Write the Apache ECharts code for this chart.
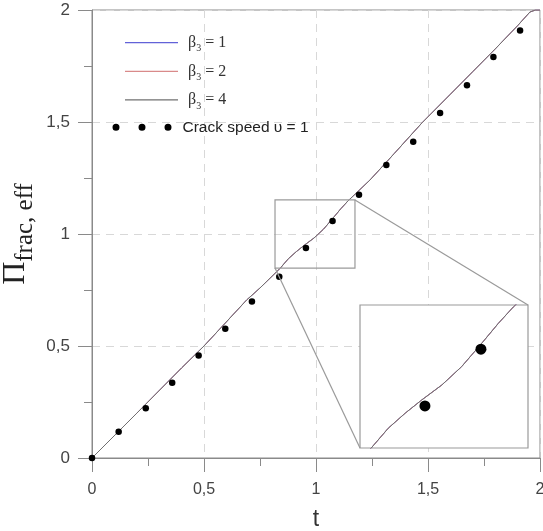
<!DOCTYPE html>
<html><head><meta charset="utf-8">
<script src="https://cdn.jsdelivr.net/npm/echarts@6.0.0/dist/echarts.min.js"></script>
<style>html,body{margin:0;padding:0;background:#fff}#c{width:543px;height:531px}</style>
</head><body><div id="c"></div>
<script>
// ---- data ----
const lineT = [0, 0.2, 0.4, 0.5, 0.69, 0.75, 0.84, 0.877, 0.913, 0.948, 0.991, 1.033, 1.076, 1.111, 1.143, 1.241, 1.35, 1.473, 1.6, 1.7, 1.8, 1.9, 1.955, 1.98, 2.0];
const beta1 = [0, 0.2, 0.402, 0.5, 0.705, 0.759, 0.847, 0.89, 0.922, 0.95, 0.982, 1.021, 1.071, 1.113, 1.148, 1.241, 1.36, 1.496, 1.624, 1.725, 1.826, 1.93, 1.991, 2.0, 2.0];
const beta2 = [0, 0.2, 0.402, 0.5, 0.705, 0.759, 0.847, 0.89, 0.922, 0.95, 0.982, 1.021, 1.071, 1.113, 1.148, 1.241, 1.36, 1.496, 1.624, 1.725, 1.826, 1.93, 1.991, 2.0, 2.0];
const beta4 = [0, 0.2, 0.402, 0.5, 0.705, 0.759, 0.847, 0.89, 0.922, 0.95, 0.982, 1.021, 1.071, 1.113, 1.148, 1.241, 1.36, 1.496, 1.624, 1.725, 1.826, 1.93, 1.991, 2.0, 2.0];
const betaValues = [1, 2, 4];
const dotT = [0, 0.119, 0.240, 0.358, 0.476, 0.595, 0.714, 0.836, 0.955, 1.074, 1.192, 1.314, 1.434, 1.554, 1.674, 1.792, 1.911];
const dotV = [0, 0.117, 0.222, 0.336, 0.458, 0.577, 0.699, 0.809, 0.9375, 1.058, 1.175, 1.308, 1.412, 1.540, 1.664, 1.790, 1.908];
const tickLabels = {0: '0', 0.5: '0,5', 1: '1', 1.5: '1,5', 2: '2'};
const zoomT = [0.817, 1.174];
const zoomV = [0.848, 1.152];
const dotName = 'Crack speed \u03c5 = 1';
const betaNames = betaValues.map(v => '\u03b23 = ' + v);

const pair = (xs, ys) => xs.map((x, i) => [x, ys[i]]);
const colors = ['#6262d8', '#d98a8a', '#707070'];
const betaData = [beta1, beta2, beta4];
const axisColor = '#8a8a8a';
const fmt = v => tickLabels[v] !== undefined ? tickLabels[v] : String(v).replace('.', ',');

const chart = echarts.init(document.getElementById('c'), null, {renderer: 'canvas'});

const mainAxisCommon = {
  type: 'value', min: 0, max: 2, interval: 0.5,
  axisLine: {show: true, onZero: false, lineStyle: {color: axisColor, width: 1}},
  axisTick: {show: true, length: 14, lineStyle: {color: axisColor}},
  minorTick: {show: true, splitNumber: 2, length: 8, lineStyle: {color: axisColor}},
  splitLine: {show: true, lineStyle: {color: '#d8d8d8', type: [8, 6], width: 1}},
  minorSplitLine: {show: false},
  axisLabel: {formatter: fmt, fontFamily: 'Liberation Sans', fontSize: 16, color: '#444'}
};
const hiddenAxis = {type: 'value', show: false, splitLine: {show: false}, axisLine: {show: false}, axisTick: {show: false}, axisLabel: {show: false}};

const series = [];
betaNames.forEach((n, i) => series.push({
  name: n, type: 'line', xAxisIndex: 0, yAxisIndex: 0, data: pair(lineT, betaData[i]),
  symbol: 'none', lineStyle: {color: colors[i], width: 1}, itemStyle: {color: colors[i]}, z: 2 + i, animation: false
}));
series.push({
  name: dotName, type: 'scatter', xAxisIndex: 0, yAxisIndex: 0, data: pair(dotT, dotV),
  symbol: 'circle', symbolSize: 6.5, itemStyle: {color: '#000', opacity: 1}, z: 6, animation: false
});
betaNames.forEach((n, i) => series.push({
  name: 'inset' + i, type: 'line', xAxisIndex: 1, yAxisIndex: 1, data: pair(lineT, betaData[i]),
  symbol: 'none', clip: true, lineStyle: {color: colors[i], width: 1}, z: 12 + i, animation: false
}));
series.push({
  name: 'insetDots', type: 'scatter', xAxisIndex: 1, yAxisIndex: 1, data: pair(dotT, dotV), clip: true,
  symbol: 'circle', symbolSize: 11, itemStyle: {color: '#000', opacity: 1}, z: 16, animation: false
});

chart.setOption({
  animation: false,
  backgroundColor: '#fff',
  grid: [
    {left: 92, top: 10, width: 448, height: 448, show: true, borderColor: axisColor, borderWidth: 1, backgroundColor: 'transparent', containLabel: false, outerBoundsMode: 'none'},
    {left: 360, top: 305, width: 168, height: 143, show: true, borderColor: '#9a9a9a', borderWidth: 1.2, backgroundColor: '#fff', z: 8, containLabel: false, outerBoundsMode: 'none'}
  ],
  xAxis: [
    Object.assign({}, mainAxisCommon, {gridIndex: 0, position: 'bottom',
      axisLabel: Object.assign({}, mainAxisCommon.axisLabel, {margin: 24}),
      name: 't', nameLocation: 'middle', nameGap: 50, nameMoveOverlap: false,
      nameTextStyle: {fontFamily: 'Liberation Sans', fontSize: 23, color: '#333'}}),
    Object.assign({}, hiddenAxis, {gridIndex: 1, min: zoomT[0], max: zoomT[1]})
  ],
  yAxis: [
    Object.assign({}, mainAxisCommon, {gridIndex: 0, position: 'left',
      axisLabel: Object.assign({}, mainAxisCommon.axisLabel, {margin: 22, fontSize: 17}),
      name: '{p|\u03a0}{s|frac, eff}', nameLocation: 'middle', nameGap: 60, nameRotate: 90, nameMoveOverlap: false,
      nameTextStyle: {color: '#222', lineHeight: 30, rich: {
        p: {fontFamily: 'Liberation Serif', fontSize: 32, color: '#222', lineHeight: 30, verticalAlign: 'bottom'},
        s: {fontFamily: 'Liberation Serif', fontSize: 25, color: '#222', lineHeight: 30, verticalAlign: 'bottom', padding: [0, 0, -6, 0]}
      }}}),
    Object.assign({}, hiddenAxis, {gridIndex: 1, min: zoomV[0], max: zoomV[1]})
  ],
  legend: [
    {
      data: betaNames.map(n => ({name: n, icon: 'rect'})), orient: 'vertical', left: 125, top: 33.7, padding: 0,
      itemWidth: 53, itemHeight: 1.2, itemGap: 8.6, selectedMode: false,
      formatter: name => {
        const v = name.split('= ')[1];
        return '{b|\u03b2}{s|3}{n| = ' + v + '}';
      },
      textStyle: {padding: [0, 0, 0, 5], lineHeight: 18, rich: {
        b: {fontFamily: 'Liberation Serif', fontSize: 16, color: '#333', lineHeight: 18},
        s: {fontFamily: 'Liberation Serif', fontSize: 10, color: '#333', verticalAlign: 'bottom', lineHeight: 18, padding: [0, 0, -2, 0]},
        n: {fontFamily: 'Liberation Serif', fontSize: 16, color: '#333', lineHeight: 18}
      }}
    },
    {
      data: [{name: dotName, icon: 'path://M0,3.5 A3.5,3.5 0 1 0 7,3.5 A3.5,3.5 0 1 0 0,3.5 Z M26,3.5 A3.5,3.5 0 1 0 33,3.5 A3.5,3.5 0 1 0 26,3.5 Z M52,3.5 A3.5,3.5 0 1 0 59,3.5 A3.5,3.5 0 1 0 52,3.5 Z'}],
      left: 112.5, top: 119.3, padding: 0, itemWidth: 59, itemHeight: 7, selectedMode: false,
      itemStyle: {opacity: 1},
      textStyle: {fontFamily: 'Liberation Sans', fontSize: 15.5, color: '#222', lineHeight: 16, padding: [0, 0, 0, 6]}
    }
  ],
  series: series
});

// zoom box and connectors derived from the axes' scales
const P = (t, v) => chart.convertToPixel({xAxisIndex: 0, yAxisIndex: 0}, [t, v]);
const Q = (t, v) => chart.convertToPixel({xAxisIndex: 1, yAxisIndex: 1}, [t, v]);
const a = P(zoomT[0], zoomV[1]), b = P(zoomT[1], zoomV[0]);
const smallBL = P(zoomT[0], zoomV[0]), smallTR = P(zoomT[1], zoomV[1]);
const bigBL = Q(zoomT[0], zoomV[0]), bigTR = Q(zoomT[1], zoomV[1]);
const gs = {stroke: '#9a9a9a', lineWidth: 1.2, fill: null};
chart.setOption({
  graphic: [
    {type: 'rect', z: 20, shape: {x: a[0], y: a[1], width: b[0] - a[0], height: b[1] - a[1]}, style: gs, silent: true},
    {type: 'line', z: 20, shape: {x1: smallBL[0], y1: smallBL[1], x2: bigBL[0], y2: bigBL[1]}, style: gs, silent: true},
    {type: 'line', z: 20, shape: {x1: smallTR[0], y1: smallTR[1], x2: bigTR[0], y2: bigTR[1]}, style: gs, silent: true}
  ]
});
</script>
</body></html>
